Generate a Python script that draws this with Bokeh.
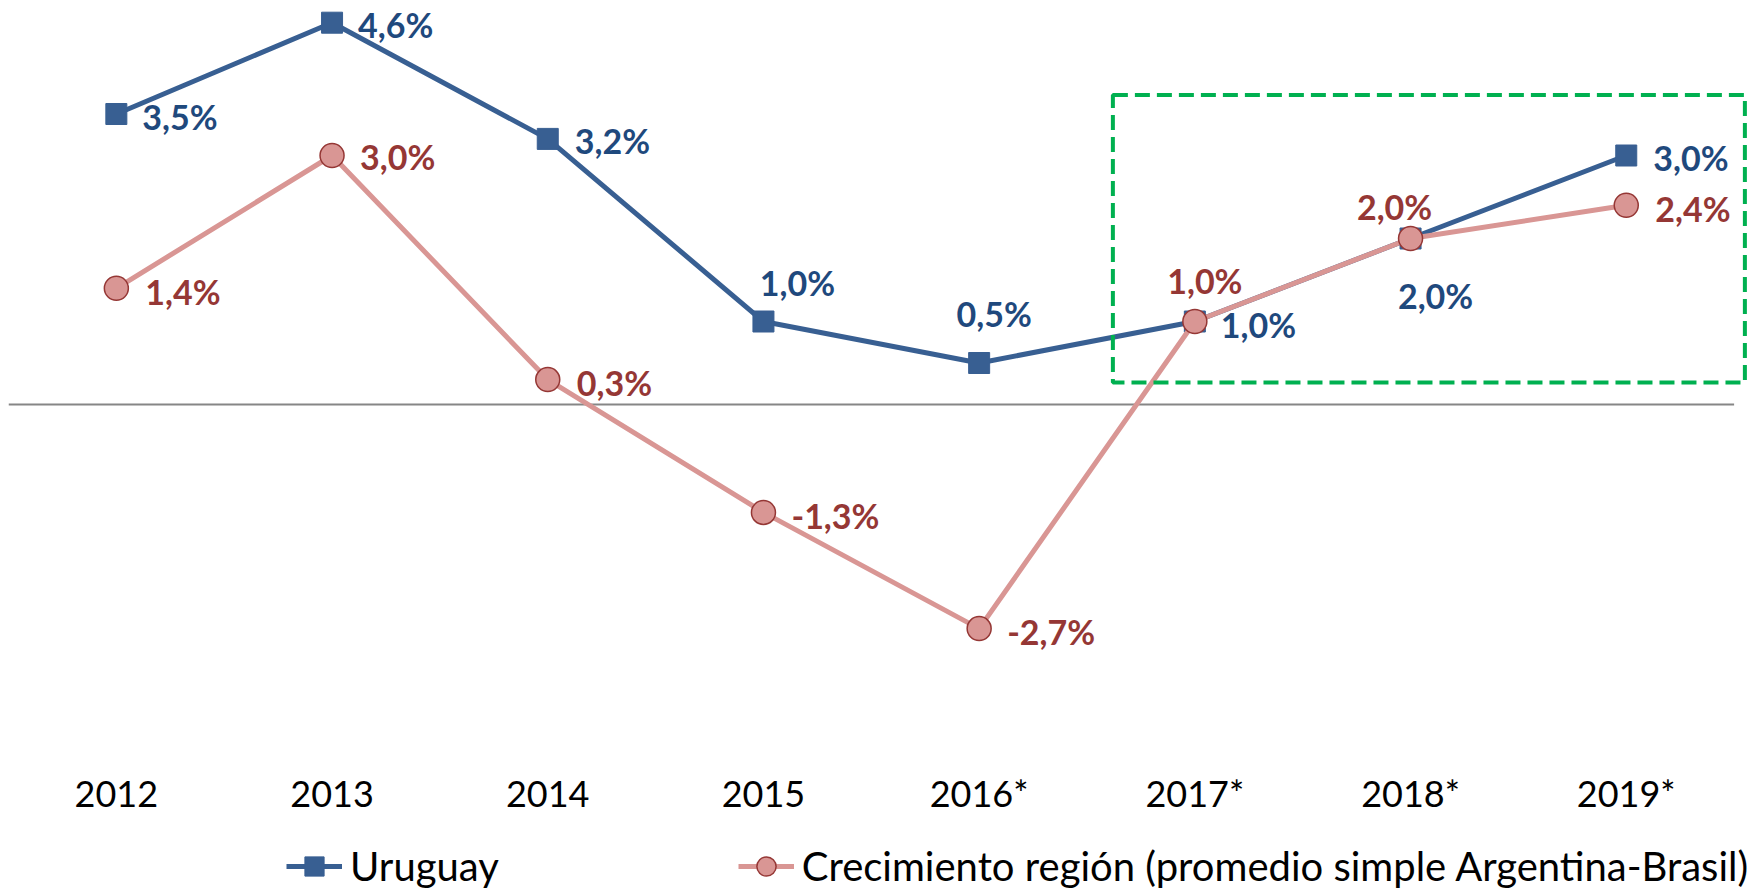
from bokeh.plotting import figure
from bokeh.models import (ColumnDataSource, Legend, LegendItem, BoxAnnotation,
                          FixedTicker, Range1d)
from bokeh.core.properties import value
from bokeh.embed import file_html
from bokeh.resources import INLINE

# ---------------- data ----------------
years = ["2012", "2013", "2014", "2015", "2016*", "2017*", "2018*", "2019*"]
uruguay = [3.5, 4.6, 3.2, 1.0, 0.5, 1.0, 2.0, 3.0]
region = [1.4, 3.0, 0.3, -1.3, -2.7, 1.0, 2.0, 2.4]
uru_labels = ["3,5%", "4,6%", "3,2%", "1,0%", "0,5%", "1,0%", "2,0%", "3,0%"]
reg_labels = ["1,4%", "3,0%", "0,3%", "-1,3%", "-2,7%", "1,0%", "2,0%", "2,4%"]
series_names = ["Uruguay", "Crecimiento región (promedio simple Argentina-Brasil)"]

# label placement (screen px offsets, + = down)
uru_dx = [26, 26, 27, 34, 15, 26, 25, 27]
uru_dy = [2, 2, 2, -39, -50, 3, 57, 2]
uru_align = ["left", "left", "left", "center", "center", "left", "center", "left"]
reg_dx = [29, 28, 29, 28, 28, 10, -16, 29]
reg_dy = [3, 1, 3, 3, 3, -41, -32, 3]
reg_align = ["left", "left", "left", "left", "left", "center", "center", "left"]

# ---------------- styling ----------------
BLUE_LINE = "#385F92"
BLUE_TEXT = "#1F497D"
PINK = "#D99694"
RED = "#953735"
GREEN = "#00B050"
FONT = "Lato"

xs = list(range(len(years)))

uru_src = ColumnDataSource(dict(x=xs, y=uruguay, lab=uru_labels, dx=uru_dx,
                                dy=uru_dy, al=uru_align))
reg_src = ColumnDataSource(dict(x=xs, y=region, lab=reg_labels, dx=reg_dx,
                                dy=reg_dy, al=reg_align))

PX_X = 215.7
PX_Y = 83.0
FW, FH = 1740, 882
y_top = 396 / PX_Y
p = figure(frame_width=FW, frame_height=FH, output_backend="svg",
           toolbar_location=None,
           x_range=Range1d(-0.5, -0.5 + FW / PX_X),
           y_range=Range1d(y_top - FH / PX_Y, y_top),
           min_border_left=8, min_border_right=0, min_border_top=8,
           min_border_bottom=0)
p.outline_line_color = None
p.xgrid.visible = False
p.ygrid.visible = False
p.yaxis.visible = False
p.background_fill_color = "white"

# category axis drawn inside the frame, above the legend
ax = p.xaxis[0]
ax.fixed_location = y_top - 757 / PX_Y
ax.ticker = FixedTicker(ticks=xs)
ax.major_label_overrides = {i: y for i, y in zip(xs, years)}
ax.axis_line_color = None
ax.major_tick_line_color = None
ax.minor_tick_line_color = None
ax.major_tick_out = 0
ax.major_label_standoff = 5
ax.major_label_text_font = FONT
ax.major_label_text_font_size = "36px"
ax.major_label_text_color = "black"

# zero line
p.line(x=[-0.5, len(years) - 0.5], y=[0, 0], line_color="#868686", line_width=2)

# highlight box (projection years)
p.add_layout(BoxAnnotation(left=4.62, right=7.55, top=3.73, bottom=0.265,
                           fill_alpha=0, line_color=GREEN, line_alpha=1.0,
                           line_width=4, line_dash="15 7"))

l1 = p.line("x", "y", source=uru_src, line_color=BLUE_LINE, line_width=5)
s1 = p.scatter("x", "y", source=uru_src, marker="square", size=21,
               fill_color=BLUE_LINE, line_color=BLUE_LINE)
l2 = p.line("x", "y", source=reg_src, line_color=PINK, line_width=5)
s2 = p.scatter("x", "y", source=reg_src, marker="circle", size=24,
               fill_color=PINK, line_color=RED, line_width=1.5)

p.text("x", "y", text="lab", source=uru_src, x_offset="dx", y_offset="dy",
       text_align="al", text_baseline="middle", text_font=value(FONT),
       text_font_style="bold", text_font_size="34px", text_color=BLUE_TEXT)
p.text("x", "y", text="lab", source=reg_src, x_offset="dx", y_offset="dy",
       text_align="al", text_baseline="middle", text_font=value(FONT),
       text_font_style="bold", text_font_size="34px", text_color=RED)

legend = Legend(items=[LegendItem(label=series_names[0], renderers=[l1, s1]),
                       LegendItem(label=series_names[1], renderers=[l2, s2])],
                orientation="horizontal", location=(278, 0),
                border_line_color=None, background_fill_alpha=0,
                label_text_font=FONT, label_text_font_size="40px",
                label_text_color="black",
                glyph_width=56, glyph_height=48, label_standoff=8,
                spacing=239, padding=0, margin=0)
p.add_layout(legend)

open("out.html", "w").write(file_html(p, INLINE))
